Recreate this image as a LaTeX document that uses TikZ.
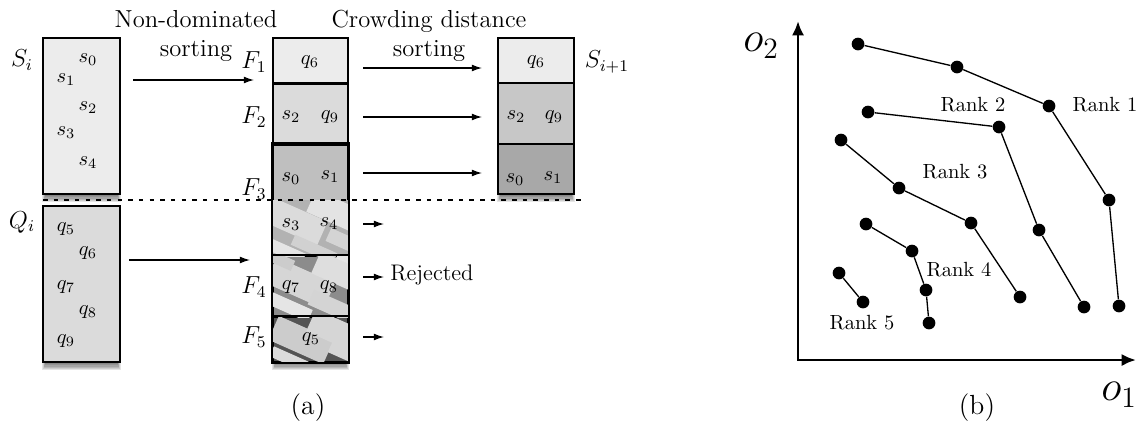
\documentclass[tikz,border=0pt]{standalone}
\usetikzlibrary{arrows.meta}
\definecolor{gA}{gray}{0.925}
\definecolor{gB}{gray}{0.86}
\definecolor{gC}{gray}{0.75}
\definecolor{gD}{gray}{0.78}
\definecolor{gE}{gray}{0.66}
\definecolor{pA}{gray}{0.70}
\definecolor{pB}{gray}{0.55}
\definecolor{pC}{gray}{0.33}
\def\u{0.4878pt}
\newcommand{\softshadow}[4]{%
  \foreach \k in {0,...,6} {%
    \fill[black, opacity=0.1] (#1+3-\k*0.6, #2+4+\k*0.2) rectangle (#3-3+\k*0.6, #4+1+\k*1.2);}}
\newcommand{\patbar}[5]{% cx cy L W gray
  \fill[white!#5!black, rotate around={-24:(#1,#2)}] (#1-#3/2,#2-#4/2) rectangle (#1+#3/2,#2+#4/2);}
\begin{document}
\begin{tikzpicture}[x=\u, y=-\u,
  cellbox/.style={draw, line width=0.9pt, inner sep=0pt, minimum width=#1*\u},
  txt/.style={inner sep=0pt},
  arr/.style={-{Latex[length=5pt,width=3.4pt]}, line width=0.6pt},
  dot/.style={circle, fill=black, inner sep=0pt, minimum size=6.2pt},
  rk/.style={line width=0.65pt},
  rank/.style={inner sep=0pt, font=\normalsize}]
\useasboundingbox (0,0) rectangle (1139,430);

% ---------- shadows ----------
\softshadow{43}{38}{120}{194}
\softshadow{43}{206}{120}{362}
\softshadow{273}{38}{348}{362}
\softshadow{498}{38}{574}{194}

% ---------- S_i and Q_i ----------
\node[cellbox=77, minimum height=156*\u, fill=gA] (Si) at (81.5,116) {};
\node[cellbox=77, minimum height=156*\u, fill=gB] (Qi) at (81.5,284) {};
\node[txt, font=\large] (SiL) at (22,60) {$S_i$};
\node[txt, font=\large] (QiL) at (22,222) {$Q_i$};
\node[txt] (s0) at (88,60) {$s_0$};
\node[txt] (s1) at (66,80) {$s_1$};
\node[txt] (s2) at (88,108) {$s_2$};
\node[txt] (s3) at (66,133) {$s_3$};
\node[txt] (s4) at (88,163) {$s_4$};
\node[txt] (q5) at (66,229) {$q_5$};
\node[txt] (q6) at (88,253) {$q_6$};
\node[txt] (q7) at (66,287) {$q_7$};
\node[txt] (q8) at (88,312) {$q_8$};
\node[txt] (q9) at (66,341) {$q_9$};

% ---------- F column ----------
\node[cellbox=75, minimum height=45*\u, fill=gA] (F1) at (310.5,60.5) {};
\node[cellbox=75, minimum height=61*\u, fill=gB] (F2) at (310.5,113.5) {};
\node[cellbox=75, minimum height=112*\u, fill=gC] (F3) at (310.5,200) {};
\node[cellbox=75, minimum height=61*\u, fill=pB] (F4) at (310.5,286.5) {};
\node[cellbox=75, minimum height=45*\u, fill=pC] (F5) at (310.5,339.5) {};
% rejected part of F3
\begin{scope}
  \clip (273,200) rectangle (348,256);
  \fill[pA] (273,200) rectangle (348,256);
  \patbar{294}{221}{62}{26}{86}
  \patbar{334}{211}{50}{24}{89}
  \patbar{343}{241}{32}{14}{83}
  \patbar{287}{252}{36}{12}{90}
  \patbar{314}{249}{46}{11}{82}
\end{scope}
\begin{scope}
  \clip (273,256) rectangle (348,317);
  \patbar{300}{283}{64}{28}{84}
  \patbar{338}{272}{48}{24}{87}
  \patbar{290}{307}{44}{13}{90}
  \patbar{331}{306}{44}{16}{83}
  \patbar{282}{261}{24}{11}{80}
  \patbar{345}{258}{16}{8}{90}
\end{scope}
\begin{scope}
  \clip (273,317) rectangle (348,362);
  \patbar{301}{340}{60}{26}{80}
  \patbar{333}{330}{48}{24}{84}
  \patbar{289}{359}{38}{11}{86}
  \patbar{341}{352}{24}{11}{84}
\end{scope}
\draw[line width=0.9pt] (F3.north west) rectangle (F5.south east);
\draw[line width=0.9pt] (F1.south west) -- (F1.south east)
  (F2.south west) -- (F2.south east)
  (F4.north west) -- (F4.north east)
  (F5.north west) -- (F5.north east);
\node[txt, font=\large] (F1L) at (254,62) {$F_1$};
\node[txt, font=\large] (F2L) at (254,117) {$F_2$};
\node[txt, font=\large] (F3L) at (254,189) {$F_3$};
\node[txt, font=\large] (F4L) at (254,287) {$F_4$};
\node[txt, font=\large] (F5L) at (254,337) {$F_5$};
\node[txt] (fq6) at (310,62) {$q_6$};
\node[txt] (fs2) at (291,117) {$s_2$};
\node[txt] (fq9) at (330,117) {$q_9$};
\node[txt] (fs0) at (291,179) {$s_0$};
\node[txt] (fs1) at (330,177) {$s_1$};
\node[txt] (fs3) at (291,225) {$s_3$};
\node[txt] (fs4) at (329,224) {$s_4$};
\node[txt] (fq7) at (291,287) {$q_7$};
\node[txt] (fq8) at (329,287) {$q_8$};
\node[txt] (fq5) at (311,339) {$q_5$};

% ---------- S_{i+1} ----------
\node[cellbox=76, minimum height=45*\u, fill=gA] (N1) at (536,60.5) {};
\node[cellbox=76, minimum height=61*\u, fill=gD] (N2) at (536,113.5) {};
\node[cellbox=76, minimum height=50*\u, fill=gE] (N3) at (536,169) {};
\node[txt, font=\large] (SnL) at (607,62) {$S_{i+1}$};
\node[txt] (nq6) at (536,62) {$q_6$};
\node[txt] (ns2) at (516,117) {$s_2$};
\node[txt] (nq9) at (554,117) {$q_9$};
\node[txt] (ns0) at (515,180) {$s_0$};
\node[txt] (ns1) at (553,178) {$s_1$};

% ---------- dotted separator ----------
\coordinate (d1) at (43,200);
\coordinate (d2) at (581,200);
\draw[line width=0.6pt, dash pattern=on 2.2pt off 3pt] (d1) -- (d2);

% ---------- headings ----------
\node[txt, font=\large, align=center] (h1) at (196,36) {Non-dominated\\sorting};
\node[txt, font=\large, align=center] (h2) at (429,36) {Crowding distance\\sorting};

% ---------- arrows ----------
\coordinate (aS1) at (133,80);  \coordinate (aS2) at (254,80);
\coordinate (aQ1) at (129,260); \coordinate (aQ2) at (250,260);
\draw[arr] (aS1) -- (aS2);
\draw[arr] (aQ1) -- (aQ2);
\coordinate (b11) at (363,68);  \coordinate (b12) at (482,68);
\coordinate (b21) at (363,117); \coordinate (b22) at (482,117);
\coordinate (b31) at (363,173); \coordinate (b32) at (482,173);
\draw[arr] (b11) -- (b12);
\draw[arr] (b21) -- (b22);
\draw[arr] (b31) -- (b32);
\coordinate (r11) at (363,224); \coordinate (r12) at (384,224);
\coordinate (r21) at (363,277); \coordinate (r22) at (384,277);
\coordinate (r31) at (363,337); \coordinate (r32) at (384,337);
\draw[arr] (r11) -- (r12);
\draw[arr] (r21) -- (r22);
\draw[arr] (r31) -- (r32);
\node[txt, anchor=west, font=\fontsize{11}{13}\selectfont] (rej) at (390,275) {Rejected};

\node[txt, font=\fontsize{13.5}{16}\selectfont] (capa) at (308,408) {(a)};
\node[txt, font=\fontsize{13.5}{16}\selectfont] (capb) at (977,408) {(b)};

% ---------- panel (b) ----------
\coordinate (O) at (798,360);
\coordinate (yt) at (798,21);
\coordinate (xe) at (1136,360);
\draw[line width=1.4pt, {Latex[length=7pt,width=6pt]}-{Latex[length=7pt,width=6pt]}] (yt) -- (O) -- (xe);
\node[txt, font=\fontsize{22}{26}\selectfont] (o2) at (761,46) {$o_2$};
\node[txt, font=\fontsize{22}{26}\selectfont] (o1) at (1119,395) {$o_1$};

\node[dot] (p11) at (858,44) {};
\node[dot] (p12) at (957,67) {};
\node[dot] (p13) at (1049,106) {};
\node[dot] (p14) at (1109,200) {};
\node[dot] (p15) at (1119,306) {};
\draw[rk] (p11) -- (p12) -- (p13) -- (p14) -- (p15);
\node[dot] (p21) at (868,112) {};
\node[dot] (p22) at (999,127) {};
\node[dot] (p23) at (1039,230) {};
\node[dot] (p24) at (1084,307) {};
\draw[rk] (p21) -- (p22) -- (p23) -- (p24);
\node[dot] (p31) at (841,140) {};
\node[dot] (p32) at (899,188) {};
\node[dot] (p33) at (971,223) {};
\node[dot] (p34) at (1020,297) {};
\draw[rk] (p31) -- (p32) -- (p33) -- (p34);
\node[dot] (p41) at (866,224) {};
\node[dot] (p42) at (912,251) {};
\node[dot] (p43) at (926,290) {};
\node[dot] (p44) at (929,323) {};
\draw[rk] (p41) -- (p42) -- (p43) -- (p44);
\node[dot] (p51) at (839,273) {};
\node[dot] (p52) at (863,302) {};
\draw[rk] (p51) -- (p52);

\node[rank] (L1) at (1105,105) {Rank 1};
\node[rank] (L2) at (973,105) {Rank 2};
\node[rank] (L3) at (955,172) {Rank 3};
\node[rank] (L4) at (959,270) {Rank 4};
\node[rank] (L5) at (862,323) {Rank 5};
\end{tikzpicture}
\end{document}
